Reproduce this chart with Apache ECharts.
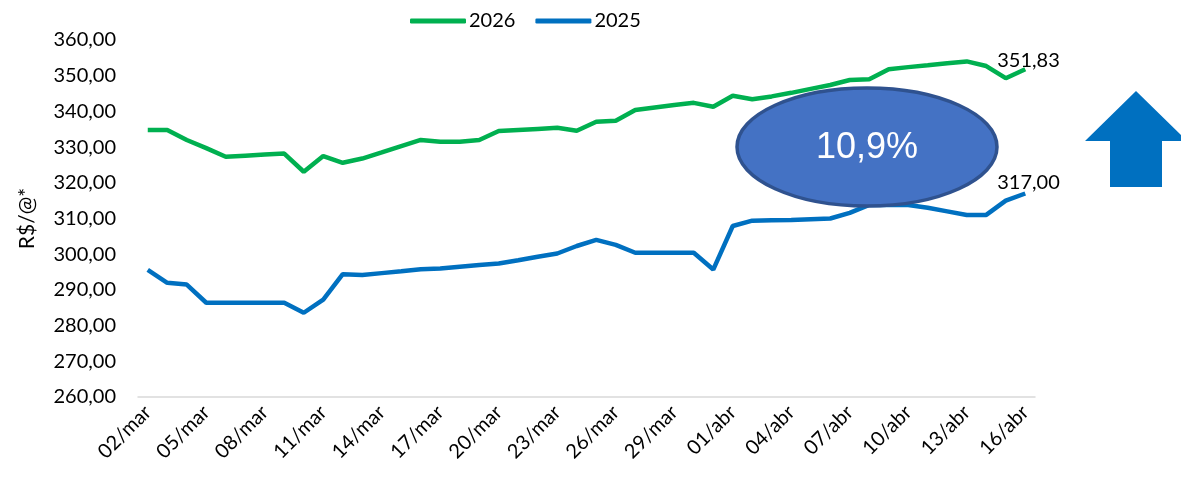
<!DOCTYPE html>
<html>
<head>
<meta charset="utf-8">
<script src="https://cdn.jsdelivr.net/npm/echarts@6/dist/echarts.min.js"></script>
<style>
  html, body { margin: 0; padding: 0; background: #fff; }
  #chart { width: 1181px; height: 480px; }
</style>
</head>
<body>
<div id="chart"></div>
<script>
// dias de 02/mar a 16/abr
const marDays = Array.from({ length: 30 }, (_, i) => String(i + 2).padStart(2, '0') + '/mar');
const abrDays = Array.from({ length: 16 }, (_, i) => String(i + 1).padStart(2, '0') + '/abr');
const dates = [...marDays, ...abrDays];

const price2026 = [
  334.8, 334.8, 332.0, 329.7, 327.3, 327.6, 327.9, 328.2, 323.1, 327.5,
  325.6, 326.8, 328.5, 330.3, 332.0, 331.5, 331.5, 332.0, 334.5, 334.8,
  335.1, 335.4, 334.6, 337.1, 337.4, 340.4, 341.1, 341.8, 342.4, 341.3,
  344.4, 343.4, 344.2, 345.2, 346.3, 347.4, 348.8, 349.0, 351.8, 352.4,
  352.9, 353.5, 354.0, 352.7, 349.3, 351.83
];
const price2025 = [
  295.6, 292.0, 291.5, 286.4, 286.4, 286.4, 286.4, 286.4, 283.6, 287.3,
  294.4, 294.2, 294.7, 295.2, 295.8, 296.0, 296.5, 297.0, 297.4, 298.3,
  299.3, 300.2, 302.3, 304.0, 302.6, 300.4, 300.4, 300.4, 300.4, 295.7,
  307.9, 309.4, 309.5, 309.6, 309.8, 310.0, 311.6, 313.8, 313.8, 313.8,
  313.0, 312.0, 311.0, 311.0, 315.0, 317.0
];
const variation = '10,9%';

const fmt = (v) => v.toFixed(2).replace('.', ',');
const font = 'Lato, "Open Sans", sans-serif';

const endLabel = {
  show: true,
  distance: 0,
  offset: [-28, -9],
  color: '#000',
  fontSize: 20,
  fontFamily: font,
  formatter: (p) => fmt(p.value)
};

const chart = echarts.init(document.getElementById('chart'), null, { renderer: 'canvas' });
chart.setOption({
  animation: false,
  backgroundColor: '#fff',
  textStyle: { fontFamily: font },
  legend: {
    top: 6,
    left: 405,
    icon: 'roundRect',
    itemWidth: 56,
    itemHeight: 5,
    itemGap: 20,
    textStyle: { color: '#000', fontSize: 20, fontFamily: font, padding: [0, 0, 0, -2] },
    data: ['2026', '2025']
  },
  grid: { left: 138, right: 146, top: 40, bottom: 83 },
  xAxis: {
    type: 'category',
    data: dates,
    boundaryGap: true,
    axisLine: { lineStyle: { color: '#d9d9d9', width: 1.5 } },
    axisTick: { show: false },
    axisLabel: { interval: 2, rotate: 45, margin: 12, color: '#000', fontSize: 20, fontFamily: font }
  },
  yAxis: {
    type: 'value',
    min: 260,
    max: 360,
    interval: 10,
    name: 'R$/@*',
    nameLocation: 'middle',
    nameGap: 100,
    nameRotate: 90,
    nameTextStyle: { color: '#000', fontSize: 21, fontFamily: font },
    axisLine: { show: false },
    axisTick: { show: false },
    splitLine: { show: false },
    axisLabel: { color: '#000', fontSize: 20, margin: 22, fontFamily: font, formatter: fmt }
  },
  series: [
    {
      name: '2026',
      type: 'line',
      data: price2026,
      symbol: 'none',
      lineStyle: { color: '#00b050', width: 4.5 },
      itemStyle: { color: '#00b050' },
      endLabel,
      z: 3
    },
    {
      name: '2025',
      type: 'line',
      data: price2025,
      symbol: 'none',
      lineStyle: { color: '#0070c0', width: 4.5 },
      itemStyle: { color: '#0070c0' },
      endLabel: { ...endLabel, offset: [-28, -11] },
      z: 2
    }
  ],
  graphic: [
    {
      type: 'ellipse',
      shape: { cx: 867, cy: 147, rx: 130, ry: 59 },
      style: { fill: '#4472c4', stroke: '#2f528f', lineWidth: 3.5 },
      z: 10
    },
    {
      type: 'text',
      x: 867,
      y: 148,
      style: { text: variation, fill: '#fff', fontSize: 36, fontFamily: 'Liberation Sans, Arial, sans-serif', align: 'center', verticalAlign: 'middle' },
      z: 11
    },
    {
      type: 'polygon',
      shape: { points: [[1136, 91], [1085, 141], [1110, 141], [1110, 187], [1162, 187], [1162, 141], [1187, 141]] },
      style: { fill: '#0070c0' },
      z: 10
    }
  ]
});
</script>
</body>
</html>
